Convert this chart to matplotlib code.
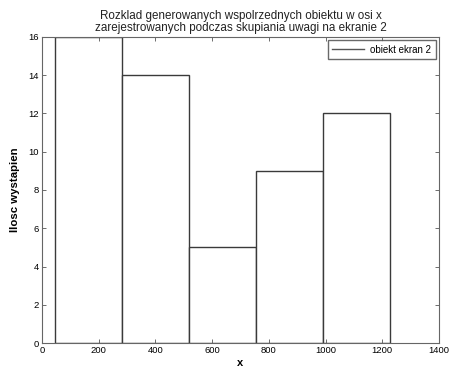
import numpy as np
import matplotlib
matplotlib.use('Agg')
import matplotlib.pyplot as plt
from matplotlib.lines import Line2D

plt.rcParams['font.family'] = ['Liberation Sans', 'DejaVu Sans']

# histogram data
bin_edges = [47, 283, 519, 755, 991, 1227]
counts = [16, 14, 5, 9, 12]
xticks = [0, 200, 400, 600, 800, 1000, 1200, 1400]
yticks = [0, 2, 4, 6, 8, 10, 12, 14, 16]

title = 'Rozklad generowanych wspolrzednych obiektu w osi x\nzarejestrowanych podczas skupiania uwagi na ekranie 2'
legend_label = 'obiekt ekran 2'

fig = plt.figure(figsize=(4.51, 3.68), dpi=100)
ax = fig.add_axes([0.0931, 0.0679, 0.8803, 0.8316])

edges = np.array(bin_edges)
ax.bar(edges[:-1], counts, width=np.diff(edges), align='edge',
       facecolor='white', edgecolor='#3a3a3a', linewidth=1.0)

ax.set_xlim(0, 1400)
ax.set_ylim(0, 16)
ax.set_xticks(xticks)
ax.set_yticks(yticks)
ax.tick_params(direction='in', top=True, right=True, labelsize=6.8, length=3,
               width=0.6, color='#555555', pad=2)
for s in ax.spines.values():
    s.set_color('#666666')
    s.set_linewidth(0.8)

ax.set_title(title, fontsize=8.4, linespacing=1.1, pad=4, color='#222222')
ax.set_xlabel('x', fontsize=8, fontweight='bold', labelpad=2)
ax.set_ylabel('Ilosc wystapien', fontsize=8.2, fontweight='bold', labelpad=6)

h = Line2D([], [], color='#555555', linewidth=1.0)
ax.legend([h], [legend_label], loc='upper right', fontsize=7, frameon=True,
          fancybox=False, edgecolor='#444444', handlelength=3.3,
          handletextpad=0.6, borderpad=0.45, borderaxespad=0.35)

fig.savefig('out.png', dpi=100)
